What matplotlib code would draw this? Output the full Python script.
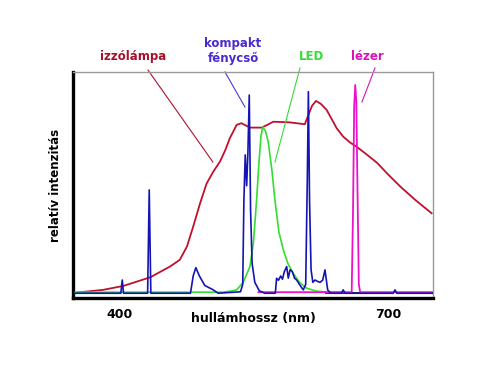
import matplotlib
matplotlib.use("Agg")
import matplotlib.pyplot as plt

# izzólámpa (incandescent) spectrum
red_nm = [351.5, 381, 404, 434, 456, 467, 475, 482, 490, 497, 504.5, 512, 518, 523,
          530.7, 536, 545.6, 558.7, 565, 571.7, 590, 607, 611, 615, 619.5, 625, 631.5,
          642.7, 650, 658, 665, 676, 688, 700, 714, 730, 749]
red_i = [1.1, 2.4, 4.3, 8.4, 13.5, 16.7, 23, 32.5, 44, 53, 58.7, 63.5, 69, 74.6,
         81, 81.8, 79.7, 79.7, 81, 82.5, 82.2, 81.3, 85.7, 90, 92.4, 91, 88.1,
         79.4, 75.4, 72.5, 70.6, 67, 62.9, 57.5, 51.6, 45.5, 38.9]

# kompakt fénycső (CFL) spectrum
blue_nm = [350, 401, 402.6, 404, 431, 432.8, 434.6, 479, 482, 485, 489, 495, 504.5, 510,
           535, 537.5, 538.8, 540.3, 541.9, 543.3, 544.8, 546.3, 548, 551, 556, 562,
           574, 575.4, 577.5, 580, 582, 584, 586.7, 588.5, 590.5, 593, 595.5, 597.9, 601, 605.3,
           608, 609.8, 611, 612.3, 614, 616, 618.4, 621, 624, 627, 629.6, 632.6, 636,
           648, 650, 652, 706, 708, 710, 750]
blue_i = [0.8, 0.8, 7.1, 0.8, 0.8, 50, 0.8, 0.8, 9, 13, 9, 4.5, 2.4, 0.8,
          1.5, 5, 45, 66.7, 52, 68, 95.2, 40, 15, 6, 2, 0.8,
          0.8, 7.9, 7, 9, 7.5, 11, 13.5, 8, 12, 11.1, 8, 7.1, 5, 2.4,
          5, 55, 96.8, 45, 12, 6, 7.1, 6.5, 6, 7, 11.9, 2.4, 0.8,
          0.8, 2.4, 0.8, 0.8, 2.4, 0.8, 0.8]

# LED spectrum
green_nm = [350, 515, 524, 530.7, 538, 545.6, 549.5, 553, 555.5, 558, 560, 563, 566, 570,
            573.6, 578, 583, 588, 594, 601, 609, 620, 631.5, 650]
green_i = [1.3, 1.3, 1.8, 2.4, 6, 13.5, 25, 45, 62, 76, 80, 78, 73, 60,
           45, 30, 21.4, 15, 10.3, 6, 3.2, 1.8, 1.3, 1.3]

# lézer spectrum
mag_nm = [555, 659.5, 661, 662.3, 663.5, 664.7, 666, 667.5, 669, 750]
mag_i = [1.3, 1.3, 40, 90, 100, 92, 50, 5, 1.3, 1.3]

# fekete alapvonal darab
black_nm = [631, 672]
black_i = [1.0, 1.0]

fig = plt.figure(figsize=(4.8, 3.71), dpi=100)
ax = fig.add_axes([0.152, 0.197, 0.75, 0.609])

ax.plot(black_nm, black_i, color="black", lw=1.2, zorder=2)
ax.plot(red_nm, red_i, color="#c0102e", lw=1.3, zorder=2)
ax.plot(green_nm, green_i, color="#33dd33", lw=1.2, zorder=3)
ax.plot(mag_nm, mag_i, color="#ee11cc", lw=1.3, zorder=3)
ax.plot(blue_nm, blue_i, color="#1414b4", lw=1.2, zorder=4)

ax.set_xlim(347.4, 750.5)
ax.set_ylim(-1.43, 106.2)

ax.set_xticks([400, 700])
ax.set_xticklabels(["400", "700"], fontweight="bold", fontsize=9)
ax.set_yticks([])
ax.tick_params(axis="x", length=0, pad=7)

for s in ["left", "bottom"]:
    ax.spines[s].set_linewidth(2.4)
    ax.spines[s].set_color("black")
for s in ["top", "right"]:
    ax.spines[s].set_linewidth(1)
    ax.spines[s].set_color("#999999")

ax.set_xlabel("hullámhossz (nm)", fontweight="bold", fontsize=9, labelpad=-6)
ax.set_ylabel("relatív intenzitás", fontweight="bold", fontsize=8.5, labelpad=8)

# Feliratok
lab = dict(fontweight="bold", fontsize=8.5, ha="center", va="center", clip_on=False)
ax.text(414.6, 113.8, "izzólámpa", color="#a8102a", **lab)
ax.text(526.5, 116.2, "kompakt\nfénycső", color="#4a2ad0", linespacing=1.15, **lab)
ax.text(615, 113.8, "LED", color="#33dd33", **lab)
ax.text(676.6, 113.8, "lézer", color="#dd11bb", **lab)

# Mutatóvonalak
ax.plot([431.4, 504.1], [107.1, 63.3], color="#b01030", lw=0.8, clip_on=False)
ax.plot([517.6, 540], [106.2, 89.5], color="#4a3ad0", lw=0.8, clip_on=False)
ax.plot([601.6, 573.6], [108.1, 63.3], color="#33dd33", lw=0.8, clip_on=False)
ax.plot([685.6, 671], [108.1, 91.9], color="#dd11bb", lw=0.8, clip_on=False)

fig.savefig("out.png", dpi=100)
